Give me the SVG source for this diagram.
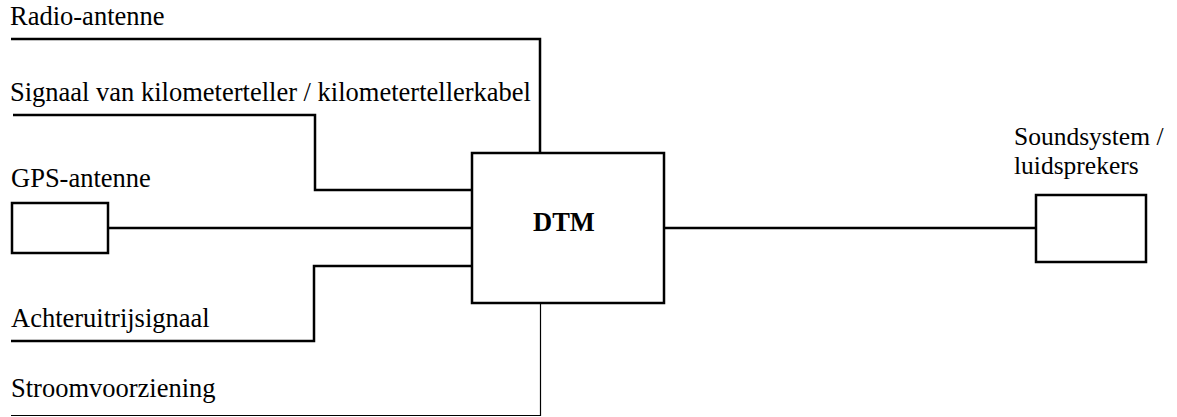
<svg xmlns="http://www.w3.org/2000/svg" width="1177" height="417" viewBox="0 0 1177 417">
<style>
.t{font-family:"Liberation Serif","Times New Roman",serif;font-size:26.5px;fill:#000}
.s{font-size:25.5px}
.b{font-weight:bold}
.box{fill:#fff;stroke:#000;stroke-width:2.5}
.w{fill:none;stroke:#000;stroke-width:2.5}
.thin{fill:none;stroke:#000;stroke-width:1.2}
</style>
<rect width="1177" height="417" fill="#fff"/>
<g id="connectors">
<polyline class="w" points="11,39 540,39 540,153"/>
<polyline class="w" points="13,115 315,115 315,190 472,190"/>
<line class="w" x1="108" y1="228" x2="472" y2="228"/>
<polyline class="w" points="472,266 314,266 314,341 11,341"/>
<polyline class="thin" points="540.5,303 540.5,415.5 11,415.5"/>
<line class="w" x1="664" y1="228" x2="1036" y2="228"/>
</g>
<g id="radio-antenne"><text class="t" x="10" y="25">Radio-antenne</text></g>
<g id="kilometerteller"><text class="t" x="10" y="101">Signaal van kilometerteller / kilometertellerkabel</text></g>
<g id="gps-antenne">
<text class="t" x="11" y="187">GPS-antenne</text>
<rect class="box" x="12" y="203" width="96" height="50"/>
</g>
<g id="achteruitrijsignaal"><text class="t" x="11" y="327">Achteruitrijsignaal</text></g>
<g id="stroomvoorziening"><text class="t" x="11" y="397">Stroomvoorziening</text></g>
<g id="dtm">
<rect class="box" x="472" y="153" width="192" height="150"/>
<text class="t b" x="533" y="231">DTM</text>
</g>
<g id="soundsystem">
<text class="t s" x="1014" y="145">Soundsystem /</text>
<text class="t s" x="1014" y="174">luidsprekers</text>
<rect class="box" x="1036" y="195" width="110" height="67"/>
</g>
</svg>
